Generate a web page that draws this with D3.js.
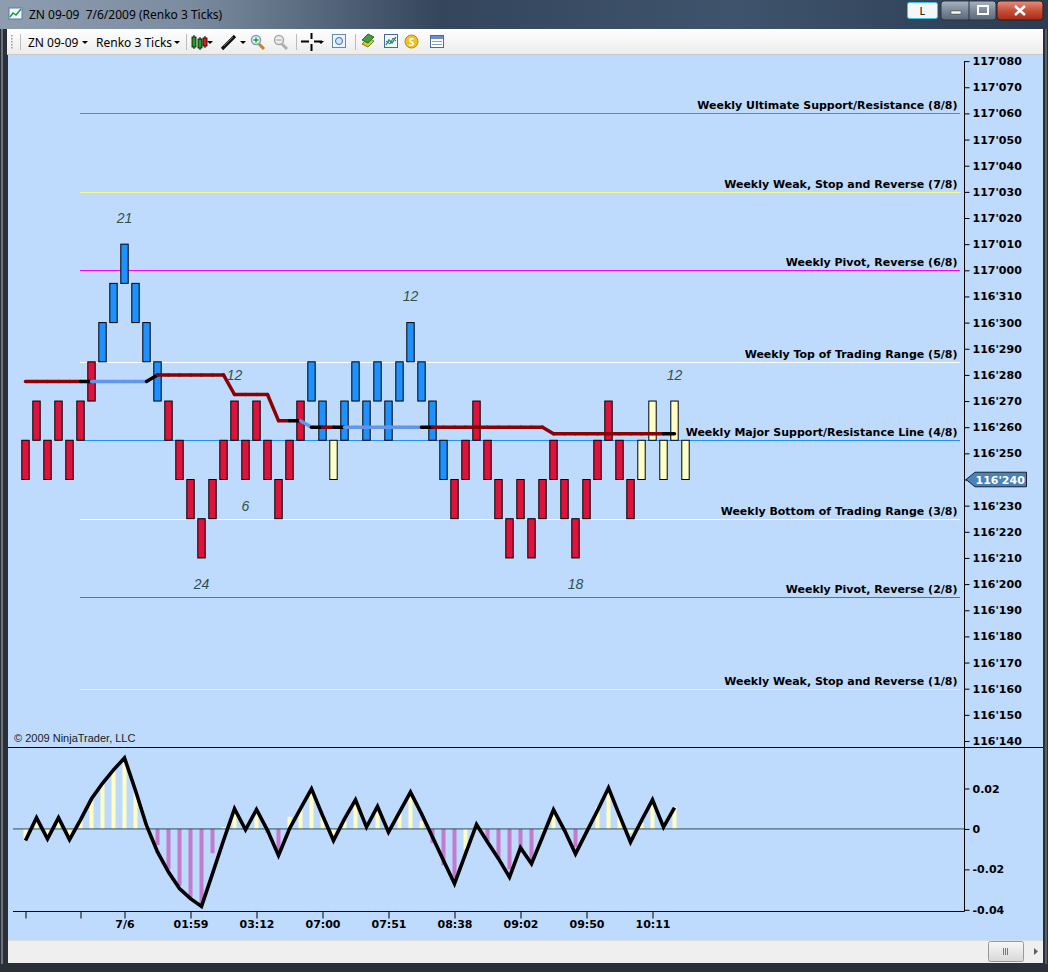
<!DOCTYPE html>
<html><head><meta charset="utf-8">
<script src="https://cdn.jsdelivr.net/npm/d3@7"></script>
<style>body{margin:0;background:#2a2f38;overflow:hidden}svg{display:block}</style>
</head><body><svg id="c" width="1048" height="972"></svg>
<script>
// ---------------- DATA ----------------
const titleText = "ZN 09-09  7/6/2009 (Renko 3 Ticks)";
const instrument = "ZN 09-09";
const barType = "Renko 3 Ticks";
const brickSize = 1.5; // in 32nds (3 ticks of 1/64)
// brick bottoms, in 32nds above 116'000
const brickLow = [24,25.5,24,25.5,24,25.5,27,28.5,30,31.5,30,28.5,27,25.5,24,22.5,21,22.5,24,25.5,
  24,25.5,24,22.5,24,25.5,27,25.5,24,25.5,27,25.5,27,25.5,27,28.5,27,25.5,24,22.5,
  24,25.5,24,22.5,21,22.5,21,22.5,24,22.5,21,22.5,24,25.5,24,22.5,24,25.5,24,25.5,24];
const brickType = ["d","d","d","d","d","d","d","u","u","u","u","u","u","d","d","d","d","d","d","d",
  "d","d","d","d","d","d","u","u","n","u","u","u","u","u","u","u","u","u","u","d",
  "d","d","d","d","d","d","d","d","d","d","d","d","d","d","d","d","n","n","n","n","n"];
// trend line (32nds) per bar and segment colour codes
const trendValues = [27.75,27.75,27.75,27.75,27.75,27.75,27.75,27.75,27.75,27.75,27.75,27.75,
  28,28,28,28,28,28,28,27.25,27.25,27.25,27.25,26.25,26.25,26.25,
  26,26,26,26,26,26,26,26,26,26,26,26,26,26,26,26,26,26,26,26,26,26,
  25.75,25.75,25.75,25.75,25.75,25.75,25.75,25.75,25.75,25.75,25.75,25.75];
const trendSegColors = ["r","r","r","r","r","k","b","b","b","b","b","k",
  "r","r","r","r","r","r","r","r","r","r","r","r","k","b","k","r","k",
  "b","b","b","b","b","b","b","k","r","r","r","r","r","r","r","r","r","r",
  "r","r","r","r","r","r","r","r","r","r","r","k"];
// swing count labels
const countBars = [9,35,19,20,16,50,59];
const countLevels = [34,31,28,23,20,20,28];
const countTexts = ["21","12","12","6","24","18","12"];
// Murrey math lines
const murreyLevels = [38,35,32,28.5,25.5,22.5,19.5,16];
const murreyLabels = ["Weekly Ultimate Support/Resistance (8/8)","Weekly Weak, Stop and Reverse (7/8)",
  "Weekly Pivot, Reverse (6/8)","Weekly Top of Trading Range (5/8)","Weekly Major Support/Resistance Line (4/8)",
  "Weekly Bottom of Trading Range (3/8)","Weekly Pivot, Reverse (2/8)","Weekly Weak, Stop and Reverse (1/8)"];
const murreyColors = ["#2f8ff0","#f2fb8a","#ff00ff","#ffffff","#1e90ff","#ffffff","#b83cc8","#f2fb8a"];
// price axis
const priceTickLabels = ["117'080","117'070","117'060","117'050","117'040","117'030","117'020","117'010","117'000",
  "116'310","116'300","116'290","116'280","116'270","116'260","116'250","116'240","116'230","116'220","116'210",
  "116'200","116'190","116'180","116'170","116'160","116'150","116'140"];
const lastPriceLabel = "116'240";
const lastPrice = 24;
// oscillator
const oscLine = [-0.0057,0.0055,-0.0049,0.0055,-0.0053,0.0045,0.0149,0.0226,0.0292,0.0351,0.0190,0.0017,
  -0.0114,-0.0213,-0.0295,-0.0345,-0.0383,-0.0221,-0.0057,0.0100,-0.0004,0.0096,-0.0007,-0.0131,0.0001,
  0.0100,0.0198,0.0067,-0.0057,0.0050,0.0144,0.0009,0.0111,-0.0016,0.0083,0.0182,0.0075,-0.0040,-0.0156,
  -0.0271,-0.0123,0.0022,-0.0065,-0.0147,-0.0238,-0.0093,-0.0172,-0.0040,0.0095,-0.0007,-0.0123,-0.0016,
  0.0091,0.0203,0.0067,-0.0065,0.0042,0.0144,0.0009,0.0105];
const oscHist = [-0.005,0.004,-0.003,0.005,-0.004,0.005,0.014,0.022,0.029,0.035,0.018,0.002,
  -0.008,-0.020,-0.028,-0.034,-0.037,-0.012,0.001,0.010,0.001,0.009,-0.002,-0.012,0.006,
  0.011,0.020,0.007,-0.003,0.004,0.013,0.001,0.011,-0.001,0.008,0.018,0.004,-0.007,-0.018,
  -0.024,-0.010,0.001,-0.006,-0.015,-0.020,-0.010,-0.015,-0.001,0.009,-0.001,-0.009,0.000,
  0.011,0.020,0.007,-0.002,0.003,0.014,0.002,0.011];
const oscHistColor = ["y","y","y","y","y","y","y","y","y","y","y","y","p","p","p","p","p","p",
  "y","y","y","y","p","p","y","y","y","y","y","y","y","y","y","y","y","y","y","p","p","p",
  "y","y","p","p","p","p","p","y","y","p","p","y","y","y","y","y","y","y","y","y"];
const oscTickLabels = ["0.02","0","-0.02","-0.04"];
// time axis
const timeTickBars = [0,5,9,15,21,27,33,39,45,51,57];
const timeTickLabels = ["","","7/6","01:59","03:12","07:00","07:51","08:38","09:02","09:50","10:11"];
const copyright = "\u00a9 2009 NinjaTrader, LLC";

// ---------------- DRAW ----------------
const svg = d3.select("#c");
const defs = svg.append("defs");
function grad(id, stops, horiz){
  const g = defs.append("linearGradient").attr("id", id)
    .attr("x1",0).attr("y1",0).attr("x2",horiz?1:0).attr("y2",horiz?0:1);
  stops.forEach(s => g.append("stop").attr("offset", s[0]).attr("stop-color", s[1]));
}
grad("title", [[0,"#8e9db0"],[0.18,"#7c8ca0"],[0.42,"#34455c"],[0.7,"#3f546c"],[1,"#2b3b52"]], true);
grad("tool", [[0,"#ffffff"],[1,"#ebebeb"]]);
grad("btn", [[0,"#a9b4c2"],[0.5,"#7d8a9a"],[1,"#5b6878"]]);
grad("close", [[0,"#e4907e"],[0.5,"#c8503a"],[1,"#a72b18"]]);
grad("thumb", [[0,"#f7f7f7"],[1,"#d8d8d8"]]);

const BG = "#bedbfd";
// window frame
svg.append("rect").attr("width",1048).attr("height",972).attr("fill","#2b3038");
svg.append("rect").attr("width",1048).attr("height",29).attr("fill","url(#title)");
svg.append("rect").attr("x",1).attr("y",29).attr("width",2).attr("height",935).attr("fill","#6c727a");
svg.append("rect").attr("x",1045).attr("y",29).attr("width",2).attr("height",935).attr("fill","#5a6068");
// title icon
const ic = svg.append("g");
ic.append("rect").attr("x",9).attr("y",8).attr("width",13).attr("height",11).attr("fill","#f4f8ff").attr("stroke","#5b7aa8");
ic.append("polyline").attr("points","10,17 13,13 16,15 21,9").attr("fill","none").attr("stroke","#1a9a3a").attr("stroke-width",1.5);
svg.append("text").attr("x",29).attr("y",19).attr("font-family","'Noto Sans',sans-serif").attr("font-size",12)
  .style("white-space","pre").attr("fill","#000").text(titleText);
// title buttons
svg.append("rect").attr("x",907.5).attr("y",2.5).attr("width",30).attr("height",16).attr("rx",2)
  .attr("fill","#f4f6f8").attr("stroke","#3cc4e8");
svg.append("text").attr("x",922.5).attr("y",15).attr("text-anchor","middle").attr("font-family","'Noto Sans',sans-serif")
  .attr("font-size",11).text("L");
svg.append("rect").attr("x",941).attr("y",1).attr("width",55).attr("height",19).attr("rx",3)
  .attr("fill","url(#btn)").attr("stroke","#2a3240");
svg.append("line").attr("x1",969).attr("x2",969).attr("y1",1).attr("y2",20).attr("stroke","#2a3240");
svg.append("rect").attr("x",951).attr("y",11).attr("width",10).attr("height",3).attr("fill","#fff").attr("stroke","#333").attr("stroke-width",0.5);
svg.append("rect").attr("x",978).attr("y",6).attr("width",10).attr("height",8).attr("fill","none").attr("stroke","#fff").attr("stroke-width",2);
svg.append("rect").attr("x",997).attr("y",1).attr("width",46).attr("height",19).attr("rx",3)
  .attr("fill","url(#close)").attr("stroke","#3a1a14");
svg.append("path").attr("d","M1015,6 L1025,15 M1025,6 L1015,15").attr("stroke","#fff").attr("stroke-width",2.6);

// toolbar
svg.append("rect").attr("x",7).attr("y",29).attr("width",1036).attr("height",26).attr("fill","url(#tool)");
svg.append("line").attr("x1",7).attr("x2",1043).attr("y1",54.5).attr("y2",54.5).attr("stroke","#c9c9c9");
const tb = svg.append("g").attr("font-family","'Noto Sans',sans-serif").attr("font-size",12).attr("fill","#000");
for (let k=0;k<5;k++) tb.append("rect").attr("x",11).attr("y",35+k*3).attr("width",1.5).attr("height",1.5).attr("fill","#9a9a9a");
[20.5,186.5,296.5,355.5].forEach(xx => tb.append("line").attr("x1",xx).attr("x2",xx).attr("y1",34).attr("y2",50).attr("stroke","#bcbcbc"));
tb.append("text").attr("x",28).attr("y",46.5).text(instrument);
tb.append("text").attr("x",96).attr("y",46.5).text(barType);
function caret(xx){ tb.append("path").attr("d",`M${xx},41 h6 l-3,3 z`).attr("fill","#000"); }
caret(82); caret(174); caret(207); caret(240); caret(318);
// candle icon
[[192,"#20a020",36,48],[198,"#20a020",38,49],[203,"#e02020",37,47]].forEach(c=>{
  tb.append("line").attr("x1",c[0]+2).attr("x2",c[0]+2).attr("y1",c[2]-1).attr("y2",c[3]+1).attr("stroke","#000");
  tb.append("rect").attr("x",c[0]).attr("y",c[2]+1).attr("width",4).attr("height",c[3]-c[2]-2).attr("fill",c[1]).attr("stroke","#000").attr("stroke-width",0.8);
});
// pencil
tb.append("line").attr("x1",222).attr("y1",49).attr("x2",235).attr("y2",36).attr("stroke","#111").attr("stroke-width",3.2);
tb.append("line").attr("x1",224).attr("y1",46).attr("x2",233).attr("y2",37).attr("stroke","#777").attr("stroke-width",0.8);
// magnifiers
function mag(cx, col, sign, dis){
  tb.append("line").attr("x1",cx+3).attr("y1",44).attr("x2",cx+8).attr("y2",49).attr("stroke",dis?"#b0b0b0":"#d08020").attr("stroke-width",3);
  tb.append("circle").attr("cx",cx).attr("cy",40).attr("r",4.5).attr("fill",dis?"#eeeeee":"#e8f6ff").attr("stroke",dis?"#a8a8a8":"#7a9cbc").attr("stroke-width",1.5);
  tb.append("path").attr("d",sign?`M${cx-2.5},40 h5 M${cx},37.5 v5`:`M${cx-2.5},40 h5`).attr("stroke",col).attr("stroke-width",1.4);
}
mag(256,"#20a020",true,false); mag(279,"#b0b0b0",false,true);
// crosshair
tb.append("path").attr("d","M301,41.5 h8 M314,41.5 h8 M311.5,33 v6 M311.5,44 v7").attr("stroke","#000").attr("stroke-width",2);
// data box icon
tb.append("rect").attr("x",332.5).attr("y",34.5).attr("width",13).attr("height",13).attr("fill","#eef4fb").attr("stroke","#6688aa");
tb.append("circle").attr("cx",339).attr("cy",41).attr("r",3.5).attr("fill","#cfe6ff").attr("stroke","#3a6ea8");
// other icons
tb.append("path").attr("d","M362,44 l6,-6 l6,3 l-6,6 z").attr("fill","#e8c020").attr("stroke","#6a8a20");
tb.append("path").attr("d","M362,40 l6,-6 l6,3 l-6,6 z").attr("fill","#40a040").attr("stroke","#2a6a2a");
tb.append("rect").attr("x",384.5).attr("y",34.5).attr("width",13).attr("height",13).attr("fill","#f4f8ff").attr("stroke","#4a6a98");
tb.append("polyline").attr("points","386,45 389,40 392,43 396,37").attr("fill","none").attr("stroke","#20a040").attr("stroke-width",1.4);
tb.append("polyline").attr("points","386,41 390,44 393,38 396,41").attr("fill","none").attr("stroke","#3060d0").attr("stroke-width",1);
tb.append("circle").attr("cx",411.5).attr("cy",41.5).attr("r",6.5).attr("fill","#f2c21e").attr("stroke","#b88a10");
tb.append("text").attr("x",411.5).attr("y",45.5).attr("text-anchor","middle").attr("font-size",10).attr("font-weight","bold").attr("fill","#fff").text("S");
tb.append("rect").attr("x",430.5).attr("y",35.5).attr("width",13).attr("height",12).attr("fill","#fff").attr("stroke","#4a6a98");
tb.append("rect").attr("x",431).attr("y",36).attr("width",12).attr("height",3).attr("fill","#6a8fc8");
[41.5,44.5].forEach(yy=>tb.append("line").attr("x1",432).attr("x2",442).attr("y1",yy).attr("y2",yy).attr("stroke","#8aa0c0"));

// chart background
svg.append("rect").attr("x",8).attr("y",55).attr("width",1035).attr("height",885).attr("fill",BG);

// scales
const x = d3.scaleLinear().domain([0, 60]).range([25.5, 685.5]);
const yP = d3.scaleLinear().domain([14, 40]).range([741, 61.1]);
const yO = d3.scaleLinear().domain([-0.04, 0.02]).range([909.8, 788.5]);

// murrey lines + labels
const mg = svg.append("g");
murreyLevels.forEach((lv, i) => {
  const yy = Math.round(yP(lv)) + 0.5;
  mg.append("line").attr("x1",80).attr("x2",960).attr("y1",yy).attr("y2",yy).attr("stroke",murreyColors[i]).attr("stroke-width",1);
  mg.append("text").attr("x",957.5).attr("y",yy-5).attr("text-anchor","end")
    .attr("font-family","'DejaVu Sans',sans-serif").attr("font-size",11).attr("font-weight","bold")
    .attr("fill","#000").text(murreyLabels[i]);
});

// bricks
const brickFill = {d:"#dc143c", u:"#1e90ff", n:"#ffffc8"};
svg.append("g").selectAll("rect").data(brickLow).join("rect")
  .attr("x", (d,i) => x(i) - 3.7)
  .attr("y", d => yP(d + brickSize))
  .attr("width", 7.4)
  .attr("height", d => yP(d) - yP(d + brickSize))
  .attr("fill", (d,i) => brickFill[brickType[i]])
  .attr("stroke", "#000").attr("stroke-width", 1);

// trend line
const segCol = {r:"#8b0000", b:"#6495ed", k:"#000000"};
svg.append("g").selectAll("line").data(trendSegColors).join("line")
  .attr("x1", (d,i) => x(i)).attr("y1", (d,i) => yP(trendValues[i]))
  .attr("x2", (d,i) => x(i+1)).attr("y2", (d,i) => yP(trendValues[i+1]))
  .attr("stroke", d => segCol[d]).attr("stroke-width", 3.5).attr("stroke-linecap","round");

// count labels
svg.append("g").selectAll("text").data(countTexts).join("text")
  .attr("x", (d,i) => x(countBars[i]))
  .attr("y", (d,i) => yP(countLevels[i]) + 5)
  .attr("text-anchor","middle").attr("font-family","'Liberation Sans',Arial,sans-serif")
  .attr("font-size",14).attr("font-style","italic").attr("fill","#2f4f4f").text(d => d);

// price axis
const priceVals = priceTickLabels.map(s => { const p = s.split("'"); return (+p[0]-116)*32 + (+p[1])/10; });
const pa = svg.append("g").attr("transform","translate(964.5,0)")
  .call(d3.axisRight(yP).tickValues(priceVals)
    .tickFormat((d,i) => d === lastPrice ? "" : priceTickLabels[i])
    .tickSize(5).tickPadding(3).tickSizeOuter(0));
pa.select(".domain").remove();
pa.attr("font-family","'DejaVu Sans',sans-serif").attr("font-size",11).attr("font-weight","bold");
pa.selectAll(".tick line").attr("stroke","#000");
svg.append("line").attr("x1",964.5).attr("x2",964.5).attr("y1",yP(40)).attr("y2",911.5).attr("stroke","#000");

// last price marker
const ly = yP(lastPrice);
svg.append("path").attr("d",`M966,${ly} L975,${ly-7.3} L1026.5,${ly-7.3} L1026.5,${ly+7.3} L975,${ly+7.3} Z`)
  .attr("fill","#4b82b8").attr("stroke","#000").attr("stroke-width",0.8);
svg.append("text").attr("x",975.5).attr("y",ly+4).attr("font-family","'DejaVu Sans',sans-serif")
  .attr("font-size",11).attr("font-weight","bold").attr("fill","#fff").text(lastPriceLabel);

// copyright
svg.append("text").attr("x",14).attr("y",742).attr("font-family","'Liberation Sans',Arial,sans-serif")
  .attr("font-size",11).attr("fill","#1a1a1a").text(copyright);

// panel separator
svg.append("line").attr("x1",8).attr("x2",1043).attr("y1",747.5).attr("y2",747.5).attr("stroke","#000");

// oscillator histogram
const histFill = {y:"#ffffc4", p:"#c27bcd"};
svg.append("g").selectAll("rect").data(oscHist).join("rect")
  .attr("x", (d,i) => x(i) - 2).attr("width", 4)
  .attr("y", d => Math.min(yO(d), yO(0)))
  .attr("height", d => Math.abs(yO(d) - yO(0)))
  .attr("fill", (d,i) => histFill[oscHistColor[i]]);
svg.append("line").attr("x1",13).attr("x2",964).attr("y1",yO(0)).attr("y2",yO(0)).attr("stroke","#2f4f4f").attr("stroke-width",1);
svg.append("path").datum(oscLine)
  .attr("d", d3.line().x((d,i) => x(i)).y(d => yO(d)))
  .attr("fill","none").attr("stroke","#000").attr("stroke-width",3.6).attr("stroke-linejoin","miter");

// oscillator axis
const oscVals = oscTickLabels.map(Number);
const oa = svg.append("g").attr("transform","translate(964.5,0)")
  .call(d3.axisRight(yO).tickValues(oscVals).tickFormat((d,i) => oscTickLabels[i]).tickSize(5).tickPadding(3).tickSizeOuter(0));
oa.select(".domain").remove();
oa.attr("font-family","'DejaVu Sans',sans-serif").attr("font-size",11).attr("font-weight","bold");

// time axis
const ta = svg.append("g").attr("transform","translate(0,911.5)")
  .call(d3.axisBottom(x).tickValues(timeTickBars).tickFormat((d,i) => timeTickLabels[i]).tickSize(7).tickPadding(2).tickSizeOuter(0));
ta.select(".domain").remove();
ta.attr("font-family","'DejaVu Sans',sans-serif").attr("font-size",11).attr("font-weight","bold");
svg.append("line").attr("x1",13).attr("x2",964.5).attr("y1",911.5).attr("y2",911.5).attr("stroke","#000");

// scrollbar
svg.append("rect").attr("x",8).attr("y",940).attr("width",1035).attr("height",23).attr("fill","#efefef");
svg.append("line").attr("x1",8).attr("x2",1043).attr("y1",940.5).attr("y2",940.5).attr("stroke","#dcdcdc");
svg.append("rect").attr("x",988.5).attr("y",941.5).attr("width",35).attr("height",20).attr("rx",2)
  .attr("fill","url(#thumb)").attr("stroke","#9a9a9a");
[1003.5,1005.5,1007.5].forEach(xx => svg.append("line").attr("x1",xx).attr("x2",xx).attr("y1",948).attr("y2",955).attr("stroke","#777"));
svg.append("path").attr("d","M1034,948 l4,3.5 l-4,3.5 z").attr("fill","#606060");
</script></body></html>
